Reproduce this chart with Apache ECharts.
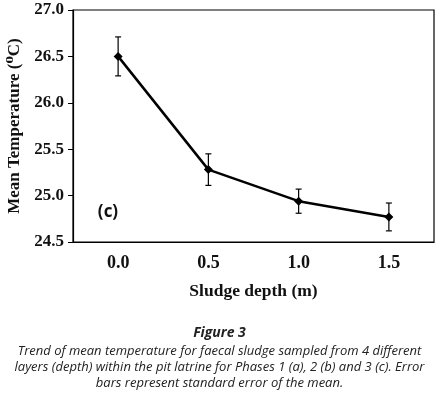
<!DOCTYPE html>
<html>
<head>
<meta charset="utf-8">
<script src="https://cdn.jsdelivr.net/npm/echarts@6/dist/echarts.min.js"></script>
<style>
  html, body { margin: 0; padding: 0; background: #fff; }
  #main { width: 439px; height: 395px; }
</style>
</head>
<body>
<div id="main"></div>
<script>
// sludge depth (m)
const depths = ['0.0', '0.5', '1.0', '1.5'];
// mean temperature and standard error
const meanTemp = [26.50, 25.28, 24.94, 24.77];
const stdErr = [0.21, 0.17, 0.13, 0.15];
const yTicks = [24.5, 27.0, 0.5];

const captionLines = [
  'Trend of mean temperature for faecal sludge sampled from 4 different',
  'layers (depth) within the pit latrine for Phases 1 (a), 2 (b) and 3 (c). Error',
  'bars represent standard error of the mean.'
];

const errData = meanTemp.map((v, i) => [i, v - stdErr[i], v + stdErr[i]]);

const serif = '"Liberation Serif", "DejaVu Serif", serif';
const capFont = '"Open Sans", "Noto Sans", sans-serif';

const myChart = echarts.init(document.getElementById('main'));
myChart.setOption({
  animation: false,
  grid: {
    left: 73, right: 5, top: 10, bottom: 153,
    outerBoundsMode: 'none',
    show: true, borderColor: '#000', borderWidth: 1.2, backgroundColor: 'transparent'
  },
  xAxis: {
    type: 'category',
    data: depths,
    boundaryGap: true,
    name: 'Sludge depth (m)',
    nameLocation: 'middle',
    nameGap: 40,
    nameTextStyle: { fontFamily: serif, fontWeight: 'bold', fontSize: 17.5, color: '#111' },
    axisLine: { lineStyle: { color: '#000', width: 1.2 } },
    axisTick: { alignWithLabel: true, length: 5, lineStyle: { color: '#000' } },
    axisLabel: { fontFamily: serif, fontWeight: 'bold', fontSize: 18, color: '#111', margin: 12 },
    splitLine: { show: false }
  },
  yAxis: {
    type: 'value',
    min: yTicks[0], max: yTicks[1], interval: yTicks[2],
    name: 'Mean Temperature (\u2070C)',
    nameLocation: 'middle',
    nameRotate: 90,
    nameGap: 45,
    nameTextStyle: { fontFamily: serif, fontWeight: 'bold', fontSize: 17, color: '#111' },
    axisLine: { show: true, lineStyle: { color: '#000', width: 1.2 } },
    axisTick: { show: true, length: 5, lineStyle: { color: '#000' } },
    axisLabel: {
      fontFamily: serif, fontWeight: 'bold', fontSize: 17, color: '#111', margin: 9,
      formatter: v => v.toFixed(1)
    },
    splitLine: { show: false }
  },
  series: [
    {
      type: 'line',
      data: meanTemp,
      symbol: 'diamond',
      symbolSize: 9,
      itemStyle: { color: '#000' },
      lineStyle: { color: '#000', width: 2.5 },
      z: 3
    },
    {
      type: 'custom',
      data: errData,
      z: 2,
      renderItem: function (params, api) {
        const lo = api.coord([api.value(0), api.value(1)]);
        const hi = api.coord([api.value(0), api.value(2)]);
        const w = 3;
        const st = { stroke: '#000', lineWidth: 1.2 };
        return {
          type: 'group',
          children: [
            { type: 'line', shape: { x1: lo[0], y1: lo[1], x2: hi[0], y2: hi[1] }, style: st },
            { type: 'line', shape: { x1: lo[0] - w, y1: lo[1], x2: lo[0] + w, y2: lo[1] }, style: st },
            { type: 'line', shape: { x1: hi[0] - w, y1: hi[1], x2: hi[0] + w, y2: hi[1] }, style: st }
          ]
        };
      }
    }
  ],
  graphic: [
    {
      type: 'text', x: 108, y: 212,
      style: { text: '(c)', font: 'bold 17px "Open Sans", sans-serif', fill: '#111', align: 'center', verticalAlign: 'middle' }
    },
    {
      type: 'text', x: 219.5, y: 333,
      style: { text: 'Figure 3', font: 'italic bold 14px ' + capFont, fill: '#222', align: 'center', verticalAlign: 'middle' }
    },
    {
      type: 'text', x: 219.5, y: 351,
      style: { text: captionLines[0], font: 'italic 13px ' + capFont, fill: '#222', align: 'center', verticalAlign: 'middle' }
    },
    {
      type: 'text', x: 219.5, y: 367,
      style: { text: captionLines[1], font: 'italic 13px ' + capFont, fill: '#222', align: 'center', verticalAlign: 'middle' }
    },
    {
      type: 'text', x: 219.5, y: 383,
      style: { text: captionLines[2], font: 'italic 13px ' + capFont, fill: '#222', align: 'center', verticalAlign: 'middle' }
    }
  ]
});
</script>
</body>
</html>
